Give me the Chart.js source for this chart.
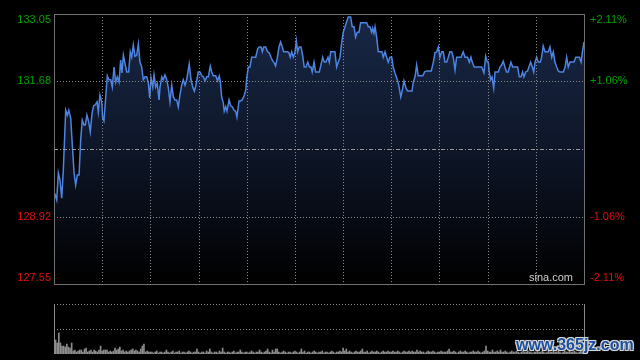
<!DOCTYPE html>
<html>
<head>
<meta charset="utf-8">
<script src="https://cdn.jsdelivr.net/npm/chart.js@4/dist/chart.umd.min.js"></script>
<style>
  html, body { margin: 0; padding: 0; background: #000; }
  #wrap { position: relative; width: 640px; height: 360px; background: #000; overflow: hidden; }
  #priceChart { position: absolute; left: 0; top: 0; }
  #volChart { position: absolute; left: 0; top: 290px; }
  #mark {
    position: absolute; left: 516px; top: 336px;
    font: bold 16px "Liberation Sans", Arial, sans-serif;
    color: #1b4f9e; letter-spacing: 0;
    text-shadow: -1px -1px 0 #d8d8d8, 1px -1px 0 #d8d8d8, -1px 1px 0 #d8d8d8, 1px 1px 0 #d8d8d8, 0 0 2px #bbb;
  }
</style>
</head>
<body>
<div id="wrap">
  <canvas id="priceChart" width="640" height="290"></canvas>
  <canvas id="volChart" width="640" height="70"></canvas>
  <div id="mark">www.365jz.com</div>
</div>
<script>
// minutes after the open (HK session, 330 min) and price at that minute
const minutes = [
  0.4,1.7,2.7,3.7,4.8,5.8,7.3,8.3,9.2,10.4,
  11.6,12.5,13.5,14.5,15.6,16.6,17.6,18.7,19.5,20.5,
  21.6,22.6,23.7,24.7,25.7,26.8,27.6,28.6,29.7,30.3,
  31.1,32.2,33.2,34.2,35.3,36.3,37.4,38.4,39.4,40.5,
  41.5,42.3,43.2,44.4,45.3,46.5,47.5,48.4,49.4,50.4,
  51.5,52.5,53.5,54.6,55.6,56.7,57.7,58.7,59.6,60.4,
  61.5,62.3,63.3,64.3,65.4,66.0,67.1,68.0,69.1,70.2,
  71.2,72.2,73.3,74.3,75.3,76.4,77.4,78.4,79.5,80.5,
  81.6,82.6,84.2,85.3,86.4,87.4,88.4,89.8,90.9,92.0,
  93.0,94.0,95.1,96.1,97.3,98.2,99.2,100.7,101.9,102.9,
  103.5,104.4,105.4,106.0,106.9,107.7,109.0,110.0,111.0,112.1,
  113.1,113.9,115.2,116.2,117.2,118.3,119.4,120.0,121.0,122.0,
  123.1,124.3,125.6,126.8,127.8,128.9,129.7,130.6,131.8,133.0,
  134.0,135.1,136.2,137.2,138.0,139.0,140.1,141.1,142.1,143.0,
  144.3,145.5,146.3,147.1,148.0,149.0,150.0,150.9,151.7,152.7,
  153.8,154.8,155.8,156.9,158.0,159.0,160.0,160.8,161.9,162.9,
  164.2,165.2,167.3,168.3,169.3,170.6,171.4,172.3,173.5,174.9,
  176.0,177.0,178.1,179.1,180.1,181.2,182.2,183.2,184.7,185.7,
  186.8,187.8,188.8,189.9,190.9,192.6,194.7,195.7,196.7,197.8,
  198.4,199.2,199.9,200.9,201.9,203.0,204.2,205.0,206.1,207.1,
  208.1,209.2,210.3,211.2,212.3,213.4,214.4,215.0,215.9,216.9,
  217.9,219.2,220.2,221.6,222.9,223.7,224.8,225.8,226.8,228.3,
  229.6,230.8,232.0,233.7,234.9,236.2,237.2,238.3,239.3,240.3,
  241.4,242.4,243.4,244.5,245.5,246.5,247.6,248.6,249.7,250.7,
  252.2,253.4,254.8,255.9,257.5,258.6,259.6,260.4,261.7,263.2,
  264.6,266.3,267.7,268.8,269.8,270.4,271.0,271.9,272.7,273.8,
  274.6,275.7,276.6,277.7,278.7,279.7,280.8,281.8,282.8,284.5,
  285.6,286.6,287.6,288.7,289.7,290.8,291.8,292.6,293.7,294.9,
  295.7,296.8,297.8,298.7,299.5,300.5,301.5,302.8,303.6,304.6,
  305.7,306.9,307.8,308.8,309.9,310.9,311.9,313.0,314.0,315.0,
  316.1,317.1,318.2,319.2,320.2,321.3,322.4,323.8,324.9,326.1,
  327.1,328.2,329.0,330.0
];
const prices = [
  129.40,129.26,129.81,129.67,129.30,129.87,131.09,130.99,131.09,130.93,
  130.28,129.81,129.57,129.77,129.77,130.48,130.89,130.79,130.79,130.99,
  130.85,130.65,131.03,131.18,131.20,131.26,131.05,131.40,131.26,130.93,
  130.87,131.36,131.79,131.71,131.71,131.56,131.97,131.66,131.77,131.66,
  132.11,131.85,132.21,132.01,131.87,131.87,132.28,132.17,132.42,132.19,
  132.21,132.44,132.07,131.97,131.71,131.77,131.77,131.66,131.34,131.75,
  131.56,131.81,131.56,131.64,131.30,131.56,131.77,131.71,131.81,131.71,
  131.54,131.26,131.60,131.36,131.30,131.30,131.16,131.40,131.60,131.71,
  131.60,131.71,132.03,131.71,131.56,131.48,131.60,131.87,131.87,131.79,
  131.77,131.69,131.77,131.77,131.99,131.87,131.79,131.79,131.69,131.79,
  131.69,131.36,131.24,131.07,131.16,131.07,131.30,131.18,131.16,131.09,
  131.07,130.95,131.28,131.28,131.30,131.38,131.50,131.75,131.97,131.97,
  132.17,132.17,132.17,132.34,132.38,132.38,132.28,132.38,132.38,132.28,
  132.26,132.17,132.09,132.05,131.99,132.15,132.38,132.48,132.38,132.28,
  132.28,132.28,132.26,132.17,132.28,132.17,132.26,132.50,132.28,132.38,
  132.38,132.21,131.97,131.97,132.07,131.97,131.97,131.87,132.07,131.87,
  131.87,131.87,132.17,132.07,132.07,132.17,132.07,132.28,132.28,132.28,
  131.97,132.07,132.17,132.46,132.68,132.79,132.89,132.99,132.99,132.79,
  132.79,132.58,132.68,132.68,132.87,132.87,132.87,132.79,132.79,132.68,
  132.76,132.66,132.79,132.58,132.28,132.28,132.28,132.17,132.28,132.17,
  132.07,132.17,132.17,131.97,131.85,131.75,131.64,131.54,131.36,131.50,
  131.69,131.54,131.48,131.48,131.48,131.66,131.77,132.01,131.79,131.79,
  131.79,131.87,131.89,131.89,131.89,132.07,132.26,132.28,132.38,132.17,
  132.28,132.28,132.07,132.07,132.17,132.28,132.28,132.17,131.91,132.17,
  132.17,132.17,132.28,132.17,132.17,132.07,132.17,132.07,131.97,131.97,
  131.97,131.97,131.85,132.19,132.07,132.07,131.87,131.71,131.77,131.54,
  131.87,131.87,131.87,131.97,132.01,132.09,131.97,131.87,131.87,132.07,
  131.97,131.97,131.97,131.97,131.77,131.77,131.87,131.77,131.87,131.89,
  131.97,132.07,131.97,131.87,132.07,132.17,132.07,132.07,132.17,132.40,
  132.28,132.28,132.28,132.38,132.17,132.28,132.07,131.97,131.89,131.87,
  131.87,131.87,131.97,132.17,131.97,132.07,132.07,132.07,132.17,132.17,
  132.17,132.07,132.28,132.48
];
// one volume bar per minute (arbitrary units)
const volumes = [
  26,14,11,21,11,8,8,7,10,7,6,11,
  3,4,2,3,4,4,2,5,6,2,3,4,2,4,3,2,4,8,
  3,4,4,4,2,3,2,3,6,4,5,7,3,4,2,3,2,3,4,5,3,4,3,2,5,8,10,2,3,2,
  2,2,1,2,3,1,2,2,1,2,4,2,1,2,3,1,2,2,3,1,2,2,1,2,3,2,1,2,2,5,
  2,1,2,2,1,3,2,5,2,1,2,2,1,3,2,6,2,1,2,2,1,2,3,1,2,2,4,2,1,2,
  2,1,2,3,2,1,2,2,4,2,1,2,3,5,2,1,4,2,5,5,2,1,2,3,2,1,2,2,1,2,
  3,2,1,2,5,2,3,1,2,2,1,2,3,2,1,2,2,3,1,2,2,1,2,3,2,1,2,2,3,2,
  6,3,5,2,3,2,1,2,3,2,2,3,5,2,2,3,1,2,3,2,2,3,2,1,2,3,2,2,3,2,
  2,3,2,2,3,2,1,2,3,2,2,3,2,3,2,2,4,2,3,2,2,1,2,3,2,2,3,2,1,2,
  2,3,2,2,2,3,5,2,2,3,2,1,2,3,2,2,3,2,1,2,2,3,2,2,3,2,1,2,3,8,
  3,2,2,4,2,2,3,2,4,2,2,3,2,1,2,3,2,2,3,2,1,2,3,2,2,3,2,2,1,2,
  2,3,2,2,3,2,1,2,3,2,2,3,2,2,3,2,1,2,3,2,2,3,2,2,3,2,1,2,3,2,3
];

const prevClose = 130.30;
const priceTicks = [133.05, 131.68, 130.30, 128.92, 127.55];
const priceLabels = ['133.05', '131.68', '', '128.92', '127.55'];
const pctLabels = ['+2.11%', '+1.06%', '', '-1.06%', '-2.11%'];
const timeGrid = [30, 60, 90, 120, 150, 180, 210, 240, 270, 300];

const font = '11px "Liberation Sans", Arial, sans-serif';
const green = '#00a000';
const red = '#dd1010';

const priceDecor = {
  id: 'priceDecor',
  afterDatasetsDraw(chart) {
    const {ctx, chartArea: a, scales: {x, y}} = chart;
    ctx.save();
    ctx.lineWidth = 1;
    ctx.strokeStyle = '#8a8a8a';
    ctx.setLineDash([1, 2]);
    timeGrid.forEach(t => {
      const px = Math.round(x.getPixelForValue(t)) + 0.5;
      ctx.beginPath(); ctx.moveTo(px, a.top); ctx.lineTo(px, a.bottom); ctx.stroke();
    });
    priceTicks.forEach(v => {
      if (v === prevClose || v === priceTicks[0] || v === priceTicks[priceTicks.length - 1]) return;
      const py = Math.round(y.getPixelForValue(v)) + 0.5;
      ctx.beginPath(); ctx.moveTo(a.left, py); ctx.lineTo(a.right, py); ctx.stroke();
    });
    ctx.strokeStyle = '#9a9a9a';
    ctx.setLineDash([4, 2, 1, 2]);
    const pc = Math.round(y.getPixelForValue(prevClose)) + 0.5;
    ctx.beginPath(); ctx.moveTo(a.left, pc); ctx.lineTo(a.right, pc); ctx.stroke();

    ctx.setLineDash([]);
    ctx.strokeStyle = '#707070';
    ctx.strokeRect(a.left + 0.5, a.top + 0.5, a.right - a.left, a.bottom - a.top);

    ctx.font = font;
    ctx.textBaseline = 'middle';
    priceTicks.forEach((v, i) => {
      if (!priceLabels[i]) return;
      let py = y.getPixelForValue(v);
      py = Math.min(Math.max(py, a.top + 6), a.bottom - 6);
      ctx.fillStyle = v > prevClose ? green : red;
      ctx.textAlign = 'right';
      ctx.fillText(priceLabels[i], a.left - 3, py);
      ctx.textAlign = 'left';
      ctx.fillText(pctLabels[i], a.right + 6, py);
    });
    ctx.fillStyle = '#cfcfcf';
    ctx.textAlign = 'right';
    ctx.fillText('sina.com', a.right - 11, a.bottom - 6);
    ctx.restore();
  }
};

new Chart(document.getElementById('priceChart'), {
  type: 'line',
  data: {
    datasets: [{
      data: minutes.map((m, i) => ({x: m, y: prices[i]})),
      borderColor: '#4d84e2',
      borderWidth: 1.5,
      pointRadius: 0,
      tension: 0,
      fill: 'start',
      backgroundColor: c => {
        const a = c.chart.chartArea;
        if (!a) return 'rgba(20,35,65,0.8)';
        const g = c.chart.ctx.createLinearGradient(0, a.top, 0, a.bottom);
        g.addColorStop(0, '#182847');
        g.addColorStop(0.5, '#0e1628');
        g.addColorStop(1, '#000000');
        return g;
      }
    }]
  },
  options: {
    responsive: false,
    animation: false,
    layout: {padding: {left: 54, right: 56, top: 14, bottom: 6}},
    plugins: {legend: {display: false}, tooltip: {enabled: false}},
    scales: {
      x: {type: 'linear', min: 0, max: 330, display: false},
      y: {min: 127.55, max: 133.05, display: false}
    }
  },
  plugins: [priceDecor]
});

const volDecor = {
  id: 'volDecor',
  beforeDatasetsDraw(chart) {
    const {ctx, chartArea: a, scales: {y}} = chart;
    ctx.save();
    ctx.lineWidth = 1;
    ctx.strokeStyle = '#8a8a8a';
    ctx.setLineDash([1, 2]);
    [50, 25].forEach(v => {
      const py = Math.round(y.getPixelForValue(v)) + 0.5;
      ctx.beginPath(); ctx.moveTo(a.left, py); ctx.lineTo(a.right, py); ctx.stroke();
    });
    ctx.setLineDash([]);
    ctx.strokeStyle = '#8a8a8a';
    [a.left + 0.5, a.right + 0.5].forEach(px => {
      ctx.beginPath(); ctx.moveTo(px, a.top); ctx.lineTo(px, a.bottom); ctx.stroke();
    });
    ctx.restore();
  }
};

new Chart(document.getElementById('volChart'), {
  type: 'bar',
  data: {
    datasets: [{
      data: volumes.map((v, i) => ({x: i, y: v})),
      backgroundColor: '#8c8c8c',
      barThickness: 1,
      borderWidth: 0
    }]
  },
  options: {
    responsive: false,
    animation: false,
    layout: {padding: {left: 54, right: 56, top: 14, bottom: 6}},
    plugins: {legend: {display: false}, tooltip: {enabled: false}},
    scales: {
      x: {type: 'linear', min: 0, max: 330, offset: false, display: false},
      y: {min: 0, max: 50, display: false}
    }
  },
  plugins: [volDecor]
});
</script>
</body>
</html>
